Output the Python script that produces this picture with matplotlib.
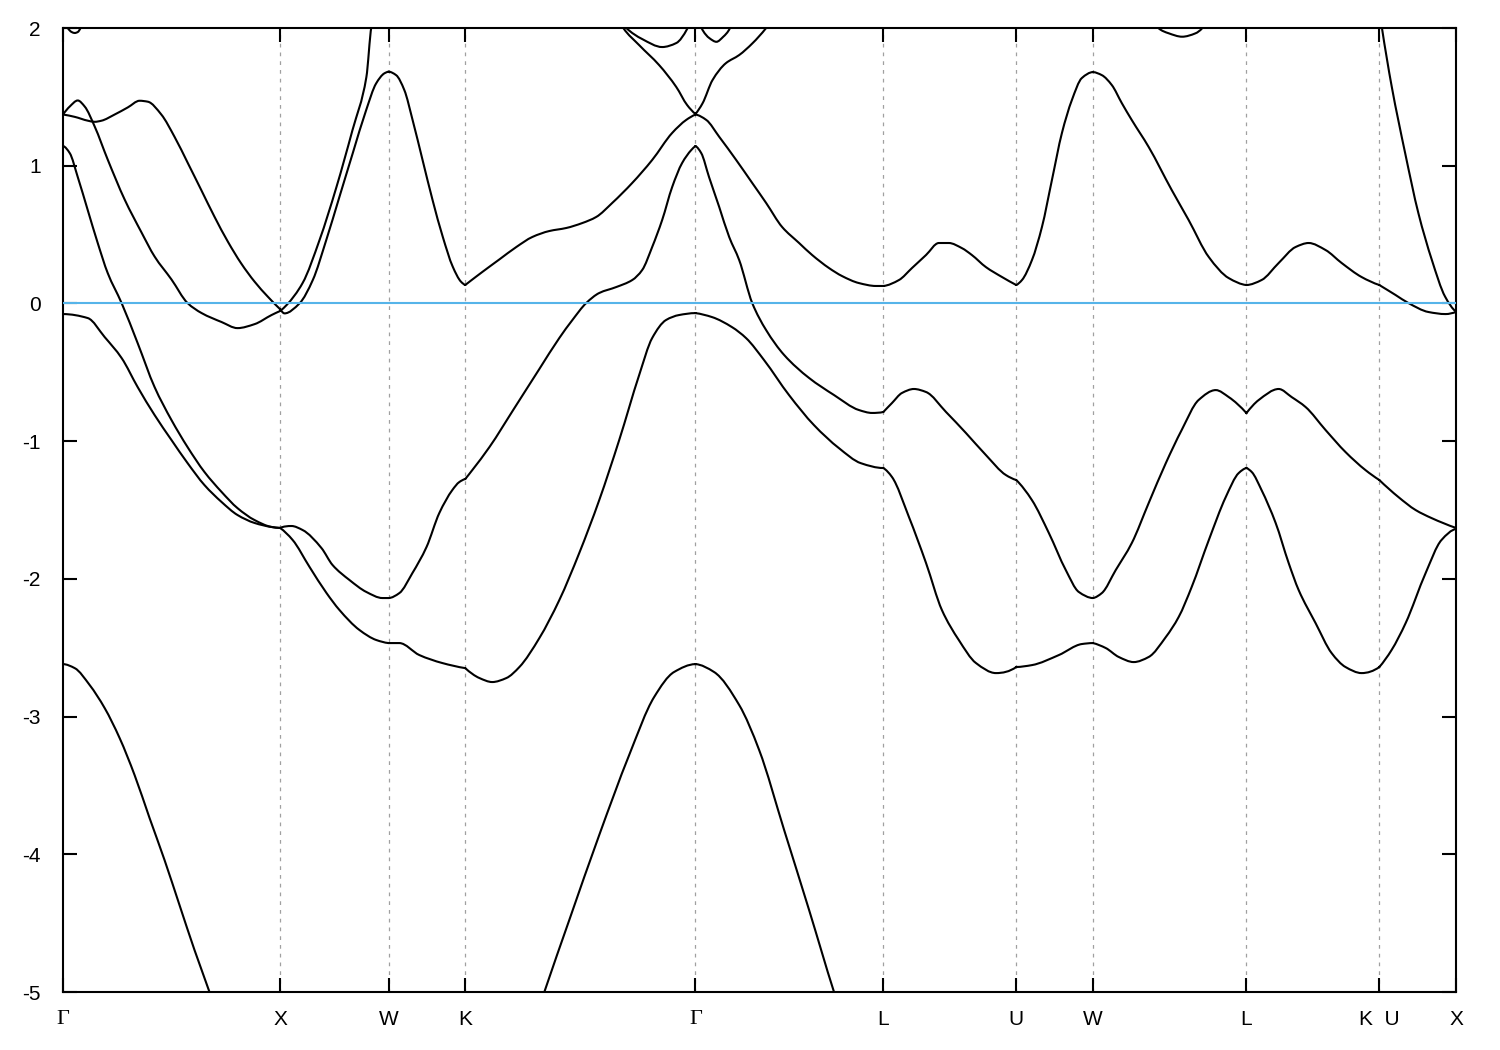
import matplotlib
matplotlib.use('Agg')
import matplotlib.pyplot as plt
from matplotlib.path import Path
from matplotlib.patches import PathPatch

# high-symmetry path (units of 2*pi/a)
tick_pos = [0.0, 1.0, 1.5, 1.8536, 2.9142, 3.7802, 4.3926, 4.7462, 5.4533, 6.0657, 6.4193]
tick_labels = ['Γ', 'X', 'W', 'K', 'Γ', 'L', 'U', 'W', 'L', 'K  U', 'X']
y_ticks = [-5, -4, -3, -2, -1, 0, 1, 2]

# lowest band (two visible pieces)
bandA1_k = [0, 0.054, 0.123, 0.192, 0.261, 0.330, 0.399, 0.468, 0.537, 0.606, 0.675, 0.721]
bandA1_e = [-2.619, -2.648, -2.771, -2.938, -3.156, -3.425, -3.737, -4.042, -4.369, -4.695, -5.0, -5.218]
bandA2_k = [2.172, 2.218, 2.333, 2.471, 2.609, 2.724, 2.816, 2.9142, 3.000, 3.116, 3.208, 3.323, 3.438, 3.553, 3.599]
bandA2_e = [-5.218, -5.0, -4.477, -3.860, -3.279, -2.858, -2.676, -2.619, -2.676, -2.916, -3.243, -3.823, -4.404, -5.0, -5.218]

band1_k = [0, 0.114, 0.192, 0.270, 0.344, 0.422, 0.500, 0.574, 0.652, 0.731, 0.804, 0.883, 0.961, 1.0,
           1.058, 1.136, 1.214, 1.274, 1.366, 1.444, 1.5, 1.550, 1.642, 1.748, 1.8536, 1.919, 1.978, 2.043,
           2.103, 2.195, 2.287, 2.379, 2.471, 2.563, 2.655, 2.715, 2.779, 2.839, 2.9142,
           2.991, 3.083, 3.148, 3.231, 3.346, 3.461, 3.576, 3.677, 3.7802,
           3.820, 3.898, 3.977, 4.050, 4.128, 4.207, 4.299, 4.3926, 4.465, 4.589, 4.695, 4.7462,
           4.805, 4.865, 4.934, 5.003, 5.082, 5.141, 5.201, 5.280, 5.358, 5.418, 5.4533,
           5.478, 5.523, 5.588, 5.648, 5.694, 5.772, 5.846, 5.910, 5.984, 6.0657, 6.122, 6.187, 6.279, 6.352, 6.4193]
band1_e = [-0.077, -0.106, -0.244, -0.396, -0.607, -0.810, -0.992, -1.159, -1.319, -1.442, -1.536, -1.594, -1.623, -1.630,
           -1.717, -1.913, -2.102, -2.226, -2.371, -2.444, -2.466, -2.466, -2.553, -2.611, -2.648, -2.720, -2.749, -2.720,
           -2.640, -2.430, -2.154, -1.812, -1.428, -0.992, -0.520, -0.251, -0.120, -0.084, -0.070,
           -0.099, -0.172, -0.252, -0.412, -0.666, -0.884, -1.051, -1.160, -1.195,
           -1.260, -1.550, -1.885, -2.226, -2.444, -2.611, -2.684, -2.640, -2.626, -2.553, -2.473, -2.466,
           -2.502, -2.567, -2.604, -2.567, -2.422, -2.277, -2.059, -1.718, -1.406, -1.231, -1.195,
           -1.224, -1.355, -1.594, -1.885, -2.081, -2.321, -2.539, -2.640, -2.684, -2.640, -2.517, -2.321, -1.958, -1.718, -1.638]

band2_k = [0, 0.031, 0.068, 0.114, 0.160, 0.206, 0.270, 0.344, 0.422, 0.500, 0.574, 0.652, 0.731, 0.804, 0.883, 0.961, 1.0,
           1.053, 1.104, 1.191, 1.242, 1.320, 1.398, 1.472, 1.5, 1.550, 1.610, 1.675, 1.734, 1.794, 1.826, 1.8536,
           1.886, 1.965, 2.080, 2.195, 2.287, 2.347, 2.411, 2.471, 2.549, 2.623, 2.669, 2.715, 2.761, 2.807, 2.853, 2.895, 2.9142,
           2.941, 2.977, 3.024, 3.070, 3.116, 3.176, 3.240, 3.323, 3.438, 3.553, 3.668, 3.728, 3.7802,
           3.820, 3.866, 3.921, 3.977, 4.069, 4.161, 4.253, 4.345, 4.3926, 4.465, 4.543, 4.621, 4.681, 4.7462,
           4.787, 4.851, 4.925, 5.003, 5.082, 5.155, 5.233, 5.312, 5.372, 5.4533,
           5.510, 5.602, 5.662, 5.726, 5.818, 5.910, 6.002, 6.0657, 6.154, 6.233, 6.306, 6.4193]
band2_e = [1.143, 1.092, 0.918, 0.678, 0.439, 0.221, 0.003, -0.288, -0.607, -0.847, -1.043, -1.224, -1.369, -1.486, -1.573, -1.623, -1.630,
           -1.616, -1.645, -1.776, -1.899, -2.008, -2.095, -2.139, -2.139, -2.103, -1.958, -1.769, -1.522, -1.355, -1.297, -1.275,
           -1.210, -1.043, -0.760, -0.476, -0.251, -0.121, 0.003, 0.076, 0.119, 0.170, 0.243, 0.410, 0.606, 0.845, 1.020, 1.114, 1.143,
           1.092, 0.918, 0.700, 0.482, 0.315, 0.003, -0.193, -0.374, -0.541, -0.665, -0.774, -0.795, -0.788,
           -0.723, -0.650, -0.621, -0.643, -0.788, -0.941, -1.101, -1.246, -1.282, -1.428, -1.667, -1.936, -2.095, -2.139,
           -2.103, -1.936, -1.740, -1.449, -1.159, -0.919, -0.701, -0.629, -0.680, -0.796,
           -0.701, -0.621, -0.680, -0.752, -0.919, -1.079, -1.210, -1.282, -1.406, -1.500, -1.558, -1.630]

band3_k = [0, 0.031, 0.068, 0.100, 0.146, 0.206, 0.284, 0.362, 0.422, 0.500, 0.574, 0.639, 0.731, 0.804, 0.883, 0.961, 1.0,
           1.030, 1.104, 1.182, 1.260, 1.334, 1.398, 1.421, 1.440]
band3_e = [1.372, 1.430, 1.474, 1.430, 1.285, 1.045, 0.755, 0.515, 0.341, 0.174, 0.003, -0.070, -0.135, -0.179, -0.150, -0.084, -0.055,
           -0.012, 0.148, 0.460, 0.845, 1.259, 1.644, 2.007, 2.116]

band4_k = [0, 0.054, 0.115, 0.146, 0.177, 0.238, 0.299, 0.353, 0.391, 0.453, 0.514, 0.576, 0.637, 0.698, 0.760, 0.821, 0.883, 0.944, 1.0,
           1.021, 1.090, 1.151, 1.213, 1.274, 1.335, 1.397, 1.443, 1.481, 1.5, 1.535, 1.573, 1.611, 1.657, 1.703, 1.750, 1.796, 1.834, 1.8536,
           1.903, 1.965, 2.011, 2.089, 2.163, 2.241, 2.319, 2.393, 2.457, 2.531, 2.623, 2.715, 2.807, 2.872, 2.9142,
           2.964, 3.024, 3.102, 3.176, 3.240, 3.314, 3.392, 3.452, 3.530, 3.590, 3.668, 3.746, 3.7802,
           3.852, 3.912, 3.977, 4.036, 4.082, 4.142, 4.188, 4.253, 4.327, 4.3926,
           4.419, 4.465, 4.511, 4.557, 4.603, 4.649, 4.695, 4.7462,
           4.787, 4.833, 4.879, 4.925, 5.003, 5.109, 5.187, 5.280, 5.372, 5.4533,
           5.523, 5.602, 5.680, 5.740, 5.818, 5.892, 5.984, 6.0657,
           6.141, 6.200, 6.292, 6.371, 6.4193]
band4_e = [1.372, 1.355, 1.327, 1.319, 1.327, 1.372, 1.424, 1.472, 1.465, 1.372, 1.210, 1.017, 0.824, 0.630, 0.448, 0.291, 0.158, 0.049, -0.041,
           -0.072, 0.001, 0.170, 0.460, 0.775, 1.090, 1.404, 1.598, 1.671, 1.683, 1.658, 1.549, 1.332, 1.041, 0.751, 0.484, 0.267, 0.158, 0.134,
           0.194, 0.267, 0.320, 0.410, 0.483, 0.526, 0.548, 0.584, 0.628, 0.730, 0.875, 1.042, 1.238, 1.333, 1.372,
           1.333, 1.210, 1.042, 0.875, 0.730, 0.555, 0.439, 0.352, 0.257, 0.199, 0.148, 0.127, 0.127,
           0.170, 0.257, 0.352, 0.439, 0.439, 0.402, 0.352, 0.264, 0.192, 0.134,
           0.170, 0.315, 0.555, 0.896, 1.237, 1.477, 1.637, 1.680,
           1.658, 1.586, 1.455, 1.332, 1.136, 0.824, 0.606, 0.337, 0.184, 0.134,
           0.170, 0.294, 0.410, 0.439, 0.388, 0.294, 0.192, 0.134,
           0.061, 0.003, -0.062, -0.077, -0.062]

band5_k = [2.563, 2.582, 2.655, 2.747, 2.826, 2.876, 2.9142, 2.947, 2.993, 3.054, 3.116, 3.177, 3.239, 3.263]
band5_e = [2.058, 2.000, 1.876, 1.731, 1.572, 1.441, 1.376, 1.453, 1.622, 1.744, 1.804, 1.889, 1.998, 2.050]

band6_k = [6.067, 6.077, 6.123, 6.185, 6.246, 6.308, 6.369, 6.4193]
band6_e = [2.120, 2.009, 1.574, 1.090, 0.654, 0.315, 0.049, -0.060]

dip1_k = [0.008, 0.022, 0.040, 0.054, 0.068, 0.081, 0.095]
dip1_e = [2.06, 2.00, 1.971, 1.964, 1.971, 2.00, 2.06]
dip2_k = [2.563, 2.596, 2.669, 2.761, 2.826, 2.876, 2.895]
dip2_e = [2.07, 2.00, 1.920, 1.862, 1.891, 1.993, 2.07]
dip3_k = [2.929, 2.943, 2.980, 3.011, 3.042, 3.073, 3.086]
dip3_e = [2.07, 1.998, 1.925, 1.900, 1.936, 1.998, 2.07]
dip4_k = [5.026, 5.049, 5.095, 5.157, 5.219, 5.249, 5.271]
dip4_e = [2.07, 1.998, 1.962, 1.937, 1.962, 1.998, 2.07]

bands = [(bandA1_k, bandA1_e), (bandA2_k, bandA2_e), (band1_k, band1_e), (band2_k, band2_e),
         (band3_k, band3_e), (band4_k, band4_e), (band5_k, band5_e), (band6_k, band6_e),
         (dip1_k, dip1_e), (dip2_k, dip2_e), (dip3_k, dip3_e), (dip4_k, dip4_e)]


def _sign(v):
    return (v > 0) - (v < 0)


def hermite_slopes(xs, ys):
    """Monotone (Fritsch-Carlson) tangents so the drawn curve never overshoots the read points."""
    n = len(xs)
    if n == 2:
        s = (ys[1] - ys[0]) / (xs[1] - xs[0])
        return [s, s]
    h = [xs[i + 1] - xs[i] for i in range(n - 1)]
    d = [(ys[i + 1] - ys[i]) / h[i] for i in range(n - 1)]
    m = [0.0] * n
    for i in range(1, n - 1):
        if d[i - 1] * d[i] <= 0:
            m[i] = 0.0
        else:
            w1 = 2 * h[i] + h[i - 1]
            w2 = h[i] + 2 * h[i - 1]
            m[i] = (w1 + w2) / (w1 / d[i - 1] + w2 / d[i])

    def end(h0, h1, d0, d1):
        v = ((2 * h0 + h1) * d0 - h0 * d1) / (h0 + h1)
        if _sign(v) != _sign(d0):
            v = 0.0
        elif _sign(d0) != _sign(d1) and abs(v) > abs(3 * d0):
            v = 3 * d0
        return v

    m[0] = end(h[0], h[1], d[0], d[1])
    m[-1] = end(h[-1], h[-2], d[-1], d[-2])
    return m


def band_path(ks, es):
    # split at high-symmetry points (kinks allowed there)
    pieces, cur = [], [0]
    for i in range(1, len(ks)):
        cur.append(i)
        if any(abs(ks[i] - t) < 1e-6 for t in tick_pos) and i != len(ks) - 1:
            pieces.append(cur)
            cur = [i]
    pieces.append(cur)
    verts, codes = [], []
    for idx in pieces:
        xs = [ks[i] for i in idx]
        ys = [es[i] for i in idx]
        m = hermite_slopes(xs, ys)
        verts.append((xs[0], ys[0]))
        codes.append(Path.MOVETO)
        for i in range(len(xs) - 1):
            hh = xs[i + 1] - xs[i]
            verts += [(xs[i] + hh / 3, ys[i] + m[i] * hh / 3),
                      (xs[i + 1] - hh / 3, ys[i + 1] - m[i + 1] * hh / 3),
                      (xs[i + 1], ys[i + 1])]
            codes += [Path.CURVE4] * 3
    return Path(verts, codes)


fig = plt.figure(figsize=(15, 10.5), dpi=100)
ax = fig.add_axes([0.042, 0.0552, 0.9287, 0.9181])

for xp in tick_pos[1:-1]:
    ax.axvline(xp, color='#a0a0a0', lw=0.9, ls=(0, (3, 4)), zorder=1)

for k, e in bands:
    ax.add_patch(PathPatch(band_path(k, e), facecolor='none', edgecolor='black',
                           lw=1.5, zorder=3, joinstyle='round', capstyle='round'))

ax.axhline(0, color='#56b4e9', lw=1.5, zorder=4)

ax.set_xlim(tick_pos[0], tick_pos[-1])
ax.set_ylim(-5, 2)
ax.set_xticks(tick_pos)
ax.set_xticklabels(tick_labels)
ax.set_yticks(y_ticks)
ax.set_yticklabels([str(v) for v in y_ticks])
ax.tick_params(axis='both', direction='in', length=10, width=1.5,
               top=True, right=True, labelsize=15)
ax.tick_params(axis='x', pad=13)
ax.tick_params(axis='y', pad=16)
for lab in ax.get_xticklabels() + ax.get_yticklabels():
    lab.set_family('Liberation Sans')
for lab in ax.get_xticklabels():
    if lab.get_text() == 'Γ':
        lab.set_family('Liberation Serif')
        lab.set_fontsize(16)
for s in ax.spines.values():
    s.set_linewidth(1.5)

fig.savefig('out.png', dpi=100)
